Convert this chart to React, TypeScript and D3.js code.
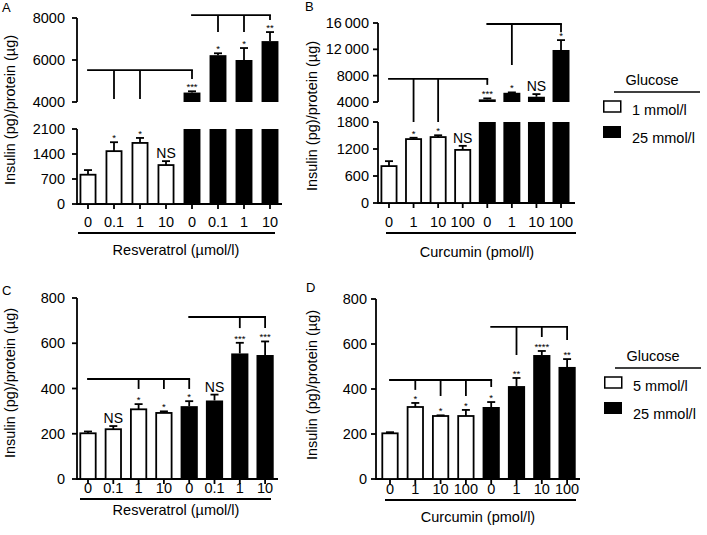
import React from "react";
import * as d3 from "d3";

// ---------- data ----------
const catsResveratrol = ["0", "0.1", "1", "10", "0", "0.1", "1", "10"];
const catsCurcumin = ["0", "1", "10", "100", "0", "1", "10", "100"];
const glucoseGroup = ["low", "low", "low", "low", "high", "high", "high", "high"];

const meanA = [820, 1480, 1710, 1090, 4450, 6230, 6000, 6900];
const errA = [130, 250, 140, 110, 60, 90, 570, 430];
const sigA = ["", "*", "*", "NS", "***", "*", "*", "**"];

const meanB = [820, 1420, 1465, 1180, 4400, 5400, 4800, 11900];
const errB = [110, 30, 40, 90, 150, 60, 400, 1500];
const sigB = ["", "*", "*", "NS", "***", "*", "NS", "*"];

const meanC = [202, 220, 308, 292, 322, 347, 555, 548];
const errC = [8, 14, 23, 7, 22, 26, 47, 60];
const sigC = ["", "NS", "*", "*", "*", "NS", "***", "***"];

const meanD = [203, 320, 280, 280, 320, 413, 551, 498];
const errD = [5, 18, 3, 27, 22, 36, 18, 35];
const sigD = ["", "*", "*", "*", "*", "**", "****", "**"];

const ticksALow = [0, 700, 1400, 2100];
const ticksAUp = [4000, 6000, 8000];
const ticksBLow = [0, 600, 1200, 1800];
const ticksBUp = [4000, 8000, 12000, 16000];
const ticksCD = [0, 200, 400, 600, 800];

// brackets: level value, span from->to (bar index), drops [index, end value]
const bracketsA = [
  { from: 0, to: 4, level: 5520, drops: [[1, 4140], [2, 4140], [4, 5100]] },
  { from: 4, to: 7, level: 8140, drops: [[5, 7330], [6, 7330], [7, 7900]] },
];
const bracketsB = [
  { from: 0, to: 4, level: 7500, drops: [[1, 1800], [2, 1800], [4, 6600]] },
  { from: 4, to: 7, level: 15850, drops: [[5, 9620], [7, 14600]] },
];
const bracketsC = [
  { from: 0, to: 4, level: 442, drops: [[2, 398], [3, 398], [4, 398]] },
  { from: 4, to: 7, level: 716, drops: [[6, 667], [7, 667]] },
];
const bracketsD = [
  { from: 0, to: 4, level: 440, drops: [[1, 396], [2, 369], [3, 369], [4, 409]] },
  { from: 4, to: 7, level: 676, drops: [[5, 551], [6, 631], [7, 618]] },
];

const FONT = "Arial, 'Liberation Sans', Helvetica, sans-serif";

const fmtTick = (v: number) =>
  v >= 10000 ? d3.format(",")(v).replace(",", "\u2009") : String(v);

type Cfg = {
  letter: string;
  letterX: number;
  letterY: number;
  axisX: number;
  xRange: [number, number];
  pad: number;
  lowDomain: [number, number];
  lowRange: [number, number];
  upDomain?: [number, number];
  upRange?: [number, number];
  ticksLow: number[];
  ticksUp?: number[];
  baselineEnd: number;
  tickLabelY: number;
  underline: [number, number, number];
  titleY: number;
  titleX: number;
  yTitleX: number;
  yTitleY: number;
  labelGap: number;
};

function Panel({
  cfg,
  cats,
  mean,
  err,
  sig,
  brackets,
  xTitle,
}: {
  cfg: Cfg;
  cats: string[];
  mean: number[];
  err: number[];
  sig: string[];
  brackets: { from: number; to: number; level: number; drops: number[][] }[];
  xTitle: string;
}) {
  const x = d3
    .scaleBand<string>()
    .domain(cats.map((_, i) => String(i)))
    .range(cfg.xRange)
    .paddingInner(cfg.pad)
    .paddingOuter(cfg.pad / 2);
  const bw = x.bandwidth();
  const cx = (i: number) => (x(String(i)) as number) + bw / 2;
  const low = d3.scaleLinear().domain(cfg.lowDomain).range(cfg.lowRange);
  const up = cfg.upDomain
    ? d3.scaleLinear().domain(cfg.upDomain).range(cfg.upRange as [number, number])
    : null;
  const lowMax = cfg.lowDomain[1];
  const y = (v: number) => {
    if (!up || v <= lowMax) return low(v);
    const upMin = (cfg.upDomain as [number, number])[0];
    if (v >= upMin) return up(v);
    const t = (v - lowMax) / (upMin - lowMax);
    return low(lowMax) + t * (up(upMin) - low(lowMax));
  };
  const base = low(0);
  const sw = 1.8;
  const tickFs = 14.5;

  return (
    <g fontFamily={FONT} fill="#000">
      <text x={cfg.letterX} y={cfg.letterY} fontSize={13}>
        {cfg.letter}
      </text>
      {/* y title */}
      <text
        transform={`translate(${cfg.yTitleX},${cfg.yTitleY}) rotate(-90)`}
        textAnchor="middle"
        dominantBaseline="central"
        fontSize={14.5}
      >
        Insulin (pg)/protein (µg)
      </text>
      {/* y axis lower */}
      <line
        x1={cfg.axisX}
        x2={cfg.axisX}
        y1={low(0) + sw / 2}
        y2={low(lowMax)}
        stroke="#000"
        strokeWidth={sw}
      />
      {cfg.ticksLow.map((t) => (
        <g key={"tl" + t}>
          <line x1={cfg.axisX - 5} x2={cfg.axisX} y1={low(t)} y2={low(t)} stroke="#000" strokeWidth={sw} />
          <text x={cfg.axisX - cfg.labelGap} y={low(t)} textAnchor="end" dominantBaseline="central" fontSize={tickFs}>
            {fmtTick(t)}
          </text>
        </g>
      ))}
      {up && cfg.ticksUp && (
        <g>
          <line
            x1={cfg.axisX}
            x2={cfg.axisX}
            y1={up((cfg.upDomain as [number, number])[0])}
            y2={up((cfg.upDomain as [number, number])[1])}
            stroke="#000"
            strokeWidth={sw}
          />
          {cfg.ticksUp.map((t) => (
            <g key={"tu" + t}>
              <line x1={cfg.axisX - 5} x2={cfg.axisX} y1={up(t)} y2={up(t)} stroke="#000" strokeWidth={sw} />
              <text x={cfg.axisX - cfg.labelGap} y={up(t)} textAnchor="end" dominantBaseline="central" fontSize={tickFs}>
                {fmtTick(t)}
              </text>
            </g>
          ))}
        </g>
      )}
      {/* x baseline */}
      <line x1={cfg.axisX} x2={cfg.baselineEnd} y1={base} y2={base} stroke="#000" strokeWidth={sw} />
      {cats.map((c, i) => (
        <g key={"xt" + i}>
          <line x1={cx(i)} x2={cx(i)} y1={base} y2={base + 5} stroke="#000" strokeWidth={sw} />
          <text x={cx(i)} y={cfg.tickLabelY} textAnchor="middle" dominantBaseline="central" fontSize={tickFs}>
            {c}
          </text>
        </g>
      ))}
      {/* bars */}
      {mean.map((m, i) => {
        const black = glucoseGroup[i] === "high";
        const x0 = x(String(i)) as number;
        const rects: JSX.Element[] = [];
        if (up && m > lowMax) {
          const upMin = (cfg.upDomain as [number, number])[0];
          rects.push(
            <rect key="l" x={x0} y={low(lowMax)} width={bw} height={base - low(lowMax)} fill="#000" />
          );
          rects.push(
            <rect key="u" x={x0} y={up(m)} width={bw} height={up(upMin) - up(m)} fill="#000" />
          );
        } else if (black) {
          rects.push(<rect key="b" x={x0} y={y(m)} width={bw} height={base - y(m)} fill="#000" />);
        } else {
          rects.push(
            <rect
              key="w"
              x={x0 + sw / 2}
              y={y(m)}
              width={bw - sw}
              height={base - y(m)}
              fill="#fff"
              stroke="#000"
              strokeWidth={sw}
            />
          );
        }
        const et = y(m + err[i]);
        return (
          <g key={"bar" + i}>
            {rects}
            <line x1={cx(i)} x2={cx(i)} y1={y(m)} y2={et} stroke="#000" strokeWidth={sw} />
            <line x1={cx(i) - 4} x2={cx(i) + 4} y1={et} y2={et} stroke="#000" strokeWidth={sw} />
            {sig[i] === "NS" ? (
              <text x={cx(i)} y={et - 3} textAnchor="middle" fontSize={14}>
                NS
              </text>
            ) : sig[i] ? (
              <text x={cx(i)} y={et - 1} textAnchor="middle" fontSize={9.5}>
                {sig[i]}
              </text>
            ) : null}
          </g>
        );
      })}
      {/* brackets */}
      {brackets.map((b, k) => (
        <g key={"br" + k}>
          <line
            x1={cx(b.from) - sw / 2}
            x2={cx(b.to) + sw / 2}
            y1={y(b.level)}
            y2={y(b.level)}
            stroke="#000"
            strokeWidth={sw}
          />
          {b.drops.map(([i, v]) => (
            <line key={"d" + i} x1={cx(i)} x2={cx(i)} y1={y(b.level)} y2={y(v)} stroke="#000" strokeWidth={sw} />
          ))}
        </g>
      ))}
      {/* underline + title */}
      <line
        x1={cfg.underline[0]}
        x2={cfg.underline[1]}
        y1={cfg.underline[2]}
        y2={cfg.underline[2]}
        stroke="#000"
        strokeWidth={sw}
      />
      <text x={cfg.titleX} y={cfg.titleY} textAnchor="middle" dominantBaseline="central" fontSize={14.5}>
        {xTitle}
      </text>
    </g>
  );
}

function Legend({ x, y, labels }: { x: number; y: number; labels: string[] }) {
  return (
    <g fontFamily={FONT} fill="#000" fontSize={14.5}>
      <text x={x + 49} y={y} textAnchor="middle">
        Glucose
      </text>
      <line x1={x + 11} x2={x + 97} y1={y + 7} y2={y + 7} stroke="#000" strokeWidth={1.5} />
      <rect x={x + 0.75} y={y + 16} width={17} height={11} fill="#fff" stroke="#000" strokeWidth={1.5} />
      <text x={x + 29} y={y + 30}>
        {labels[0]}
      </text>
      <rect x={x} y={y + 41} width={18} height={12} fill="#000" />
      <text x={x + 29} y={y + 58}>
        {labels[1]}
      </text>
    </g>
  );
}

const cfgA: Cfg = {
  letter: "A", letterX: 2, letterY: 12, axisX: 77, xRange: [75, 283], pad: 0.35,
  lowDomain: [0, 2100], lowRange: [204, 129], upDomain: [4000, 8000], upRange: [102, 18],
  ticksLow: ticksALow, ticksUp: ticksAUp, baselineEnd: 282, tickLabelY: 222,
  underline: [78, 275, 233], titleY: 250, titleX: 176, yTitleX: 10, yTitleY: 110, labelGap: 12,
};
const cfgB: Cfg = {
  letter: "B", letterX: 305, letterY: 11, axisX: 378, xRange: [376.7, 573.3], pad: 0.31,
  lowDomain: [0, 1800], lowRange: [203, 122], upDomain: [4000, 16000], upRange: [102, 23],
  ticksLow: ticksBLow, ticksUp: ticksBUp, baselineEnd: 575, tickLabelY: 222,
  underline: [386, 576, 233], titleY: 252, titleX: 477, yTitleX: 312, yTitleY: 116, labelGap: 9,
};
const cfgC: Cfg = {
  letter: "C", letterX: 2, letterY: 295, axisX: 77, xRange: [75.35, 277.75], pad: 0.32,
  lowDomain: [0, 800], lowRange: [479, 298],
  ticksLow: ticksCD, baselineEnd: 278, tickLabelY: 488,
  underline: [80, 271, 499], titleY: 510, titleX: 176, yTitleX: 10, yTitleY: 383, labelGap: 12,
};
const cfgD: Cfg = {
  letter: "D", letterX: 306, letterY: 292, axisX: 376, xRange: [377.35, 579.75], pad: 0.32,
  lowDomain: [0, 800], lowRange: [479, 299],
  ticksLow: ticksCD, baselineEnd: 580, tickLabelY: 489,
  underline: [385, 576, 500], titleY: 517, titleX: 478, yTitleX: 312, yTitleY: 385, labelGap: 9,
};

export default function App() {
  return (
    <svg
      width={707}
      height={535}
      style={{ position: "absolute", left: 0, top: 0, background: "#fff" }}
    >
      <rect width={707} height={535} fill="#fff" />
      <Panel cfg={cfgA} cats={catsResveratrol} mean={meanA} err={errA} sig={sigA} brackets={bracketsA} xTitle="Resveratrol (µmol/l)" />
      <Panel cfg={cfgB} cats={catsCurcumin} mean={meanB} err={errB} sig={sigB} brackets={bracketsB} xTitle="Curcumin (pmol/l)" />
      <Panel cfg={cfgC} cats={catsResveratrol} mean={meanC} err={errC} sig={sigC} brackets={bracketsC} xTitle="Resveratrol (µmol/l)" />
      <Panel cfg={cfgD} cats={catsCurcumin} mean={meanD} err={errD} sig={sigD} brackets={bracketsD} xTitle="Curcumin (pmol/l)" />
      <Legend x={603} y={85} labels={["1 mmol/l", "25 mmol/l"]} />
      <Legend x={604} y={361} labels={["5 mmol/l", "25 mmol/l"]} />
    </svg>
  );
}
